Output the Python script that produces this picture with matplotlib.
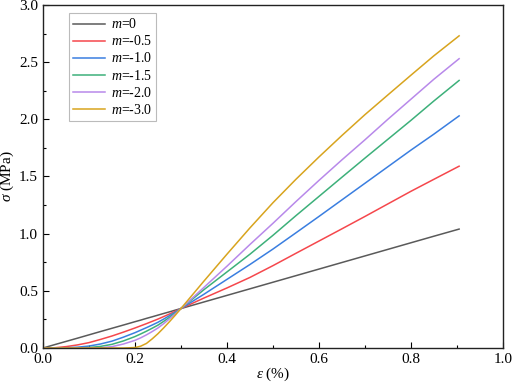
import matplotlib
matplotlib.use("Agg")
import matplotlib.pyplot as plt
from matplotlib.ticker import MultipleLocator, FormatStrFormatter

plt.rcParams['font.family'] = ['Liberation Serif', 'DejaVu Serif']
plt.rcParams['mathtext.fontset'] = 'custom'
plt.rcParams['mathtext.rm'] = 'Liberation Serif'
plt.rcParams['mathtext.it'] = 'Liberation Serif:italic'

strain = [0, 0.025, 0.05, 0.075, 0.1, 0.125, 0.15, 0.175, 0.2, 0.2125, 0.225, 0.2375,
          0.25, 0.2625, 0.275, 0.2875, 0.3, 0.35, 0.4, 0.45, 0.5, 0.55, 0.6, 0.65,
          0.7, 0.75, 0.8, 0.85, 0.905]

m_0 = [0, 0.029, 0.0575, 0.086, 0.115, 0.144, 0.1725, 0.201, 0.23, 0.244, 0.259, 0.273,
       0.2875, 0.302, 0.316, 0.331, 0.345, 0.4025, 0.46, 0.5175, 0.575, 0.6325, 0.69, 0.7475,
       0.805, 0.8625, 0.92, 0.9775, 1.04]
m_05 = [0, 0.002, 0.012, 0.027, 0.047, 0.075, 0.105, 0.139, 0.175, 0.194, 0.213, 0.233,
        0.253, 0.275, 0.297, 0.321, 0.345, 0.437, 0.525, 0.617, 0.72, 0.828, 0.935, 1.042,
        1.15, 1.26, 1.37, 1.475, 1.59]
m_10 = [0, 0.0, 0.002, 0.007, 0.017, 0.035, 0.06, 0.095, 0.134, 0.156, 0.178, 0.201,
        0.225, 0.253, 0.283, 0.313, 0.345, 0.47, 0.60, 0.73, 0.865, 1.007, 1.15, 1.295,
        1.44, 1.585, 1.73, 1.87, 2.03]
m_15 = [0, 0.0, 0.0, 0.0, 0.004, 0.014, 0.032, 0.062, 0.10, 0.123, 0.147, 0.173,
        0.20, 0.233, 0.268, 0.305, 0.345, 0.51, 0.665, 0.82, 0.985, 1.157, 1.325, 1.493,
        1.66, 1.825, 1.99, 2.16, 2.34]
m_20 = [0, 0.0, 0.0, 0.0, 0.0, 0.002, 0.012, 0.035, 0.067, 0.089, 0.115, 0.144,
        0.175, 0.213, 0.255, 0.298, 0.345, 0.53, 0.715, 0.905, 1.09, 1.28, 1.465, 1.645,
        1.82, 2.0, 2.175, 2.35, 2.53]
m_30 = [0, 0.0, 0.0, 0.0, 0.0, 0.0, 0.0, 0.0, 0.004, 0.016, 0.04, 0.08,
        0.125, 0.176, 0.23, 0.286, 0.345, 0.585, 0.82, 1.05, 1.27, 1.475, 1.67, 1.858,
        2.04, 2.213, 2.385, 2.555, 2.73]

labels = ['$m$=0', '$m$=-0.5', '$m$=-1.0', '$m$=-1.5', '$m$=-2.0', '$m$=-3.0']
series = [m_0, m_05, m_10, m_15, m_20, m_30]
colors = ['#5a5a5a', '#f5474c', '#3a7ee0', '#3db07a', '#b889ea', '#d8a41e']

fig = plt.figure(figsize=(5.12, 3.82), dpi=100)
ax = fig.add_axes([0.084, 0.089, 0.898, 0.898])

for ys, lab, c in zip(series, labels, colors):
    ax.plot(strain, ys, color=c, lw=1.1, label=lab)

ax.set_xlim(0, 1.0)
ax.set_ylim(0, 3.0)
ax.xaxis.set_major_locator(MultipleLocator(0.2))
ax.xaxis.set_minor_locator(MultipleLocator(0.1))
ax.yaxis.set_major_locator(MultipleLocator(0.5))
ax.yaxis.set_minor_locator(MultipleLocator(0.25))
ax.xaxis.set_major_formatter(FormatStrFormatter('%.1f'))
ax.yaxis.set_major_formatter(FormatStrFormatter('%.1f'))
ax.tick_params(which='both', direction='in', top=False, right=False, labelsize=11)
ax.tick_params(which='major', length=4, width=0.8)
ax.tick_params(which='minor', length=2.5, width=0.8)
for sp in ax.spines.values():
    sp.set_linewidth(1.0)
    sp.set_color('#222222')

ax.set_xlabel(r'$\varepsilon$ (%)', fontsize=11, labelpad=0)
ax.set_ylabel(r'$\sigma$ (MPa)', fontsize=11, labelpad=2)

leg = ax.legend(loc='upper left', bbox_to_anchor=(0.057, 0.976), fontsize=10,
                frameon=True, fancybox=False, edgecolor='#aaaaaa',
                handlelength=2.3, handletextpad=0.4, labelspacing=0.22,
                borderpad=0.3, borderaxespad=0.0)
leg.get_frame().set_linewidth(0.8)

fig.savefig('out.png', dpi=100)
